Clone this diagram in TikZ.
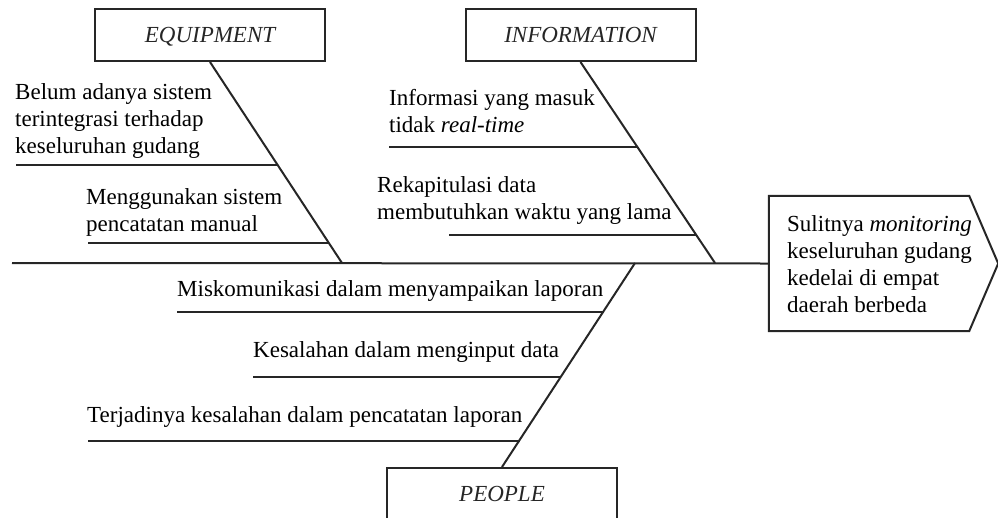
\documentclass[tikz,border=0pt]{standalone}
\usepackage{fontspec}
\setmainfont{Liberation Serif}
\usetikzlibrary{calc}
\begin{document}
\begin{tikzpicture}[x=1pt,y=-1pt,
  bone/.style={line width=2pt,black!85},
  catbox/.style={draw,line width=2pt,black!85,minimum width=230pt,minimum height=52pt,inner sep=0pt,text height=17pt,text depth=2pt,font=\fontsize{23}{27}\selectfont\itshape},
  cause/.style={anchor=base west,inner sep=0pt,align=left,font=\fontsize{23}{26.8}\selectfont}]
\useasboundingbox (0,0) rectangle (998,517);
% category boxes
\node[catbox] (eq) at (210,35) {EQUIPMENT};
\node[catbox] (info) at (580.5,35) {INFORMATION};
\node[catbox] (people) at (502,494) {PEOPLE};
% effect head
\node[inner sep=0pt,minimum width=200pt,minimum height=135pt] (effect) at (869,263.5) {};
\draw[bone] (effect.north west) -- (effect.north east) -- ($(effect.east)+(29,0)$) -- (effect.south east) -- (effect.south west) -- cycle;
\node[cause] (etext) at (787,312) {Sulitnya \textit{monitoring}\\keseluruhan gudang\\kedelai di empat\\daerah berbeda};
% spine
\coordinate (tail) at (12,263);
\coordinate (eqend) at (342,263);
\coordinate (infoend) at (715,263);
\coordinate (pend) at (635,263);
\draw[bone] (tail) -- (effect.west);
\draw[bone] (eq.south) -- (eqend);
\draw[bone] (info.south) -- (infoend);
\draw[bone] (pend) -- (people.north);
% sub-bones equipment
\coordinate (e1s) at (16,165);
\coordinate (e2s) at (88,243);
\coordinate (e1b) at ($(eq.south)!0.514!(eqend)$);
\coordinate (e2b) at ($(eq.south)!0.903!(eqend)$);
\draw[bone] (e1s) -- (e1s -| e1b);
\draw[bone] (e2s) -- (e2s -| e2b);
\node[cause] (c1) at (15,153) {Belum adanya sistem\\terintegrasi terhadap\\keseluruhan gudang};
\node[cause] (c2) at (86,231) {Menggunakan sistem\\pencatatan manual};
% sub-bones information
\coordinate (i1s) at (389,147);
\coordinate (i2s) at (449,235);
\coordinate (i1b) at ($(info.south)!0.426!(infoend)$);
\coordinate (i2b) at ($(info.south)!0.861!(infoend)$);
\draw[bone] (i1s) -- (i1s -| i1b);
\draw[bone] (i2s) -- (i2s -| i2b);
\node[cause] (c3) at (389,132) {Informasi yang masuk\\tidak \textit{real-time}};
\node[cause] (c4) at (377,219) {Rekapitulasi data\\membutuhkan waktu yang lama};
% sub-bones people
\coordinate (p1s) at (177,312);
\coordinate (p2s) at (253,377);
\coordinate (p3s) at (88,441);
\coordinate (p1b) at ($(pend)!0.239!(people.north)$);
\coordinate (p2b) at ($(pend)!0.556!(people.north)$);
\coordinate (p3b) at ($(pend)!0.868!(people.north)$);
\draw[bone] (p1s) -- (p1s -| p1b);
\draw[bone] (p2s) -- (p2s -| p2b);
\draw[bone] (p3s) -- (p3s -| p3b);
\node[cause] (c5) at (177,296) {Miskomunikasi dalam menyampaikan laporan};
\node[cause] (c6) at (253,357) {Kesalahan dalam menginput data};
\node[cause] (c7) at (87,422) {Terjadinya kesalahan dalam pencatatan laporan};
\end{tikzpicture}
\end{document}
